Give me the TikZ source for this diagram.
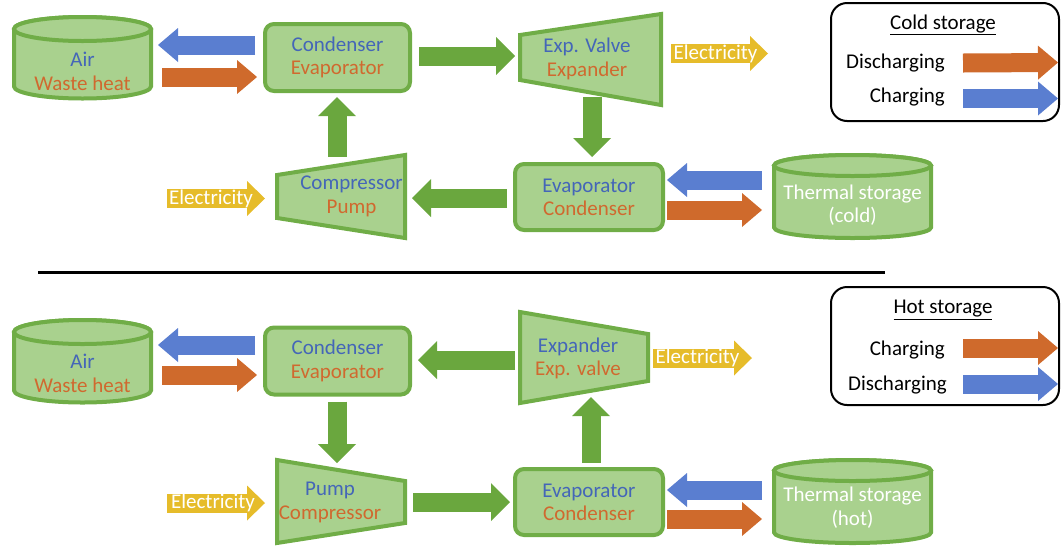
\documentclass[tikz,border=0pt]{standalone}
\usepackage{fontspec}
\setmainfont{Carlito}
\usetikzlibrary{arrows.meta,calc}
\newdimen\px \px=0.75pt
\definecolor{gfill}{HTML}{A9D18E}
\definecolor{gline}{HTML}{70AD47}
\definecolor{garr}{HTML}{6AA73E}
\definecolor{barr}{HTML}{5A7ED0}
\definecolor{oarr}{HTML}{CF6A2C}
\definecolor{yarr}{HTML}{E6BC2A}
\definecolor{btxt}{HTML}{4466B8}
\definecolor{otxt}{HTML}{D0692F}
\tikzset{
 lbl/.style={font=\fontsize{15.75}{17.5}\selectfont, align=center, inner sep=0pt},
 shapebox/.style={draw=gline, fill=gfill, line width=3pt, line join=miter},
 rbox/.style={shapebox, rounded corners=9\px, minimum width=145\px, minimum height=67\px, lbl},
 bbox/.style={inner sep=0pt, outer sep=0pt},
 fat/.style n args={4}{draw=#1, line width=#2, -{Triangle[width=#3, length=#4, line width=0pt]}},
 garrow/.style={fat={garr}{14.25pt}{28.5pt}{14.25pt}},
 barrow/.style={fat={barr}{14.25pt}{25.5pt}{15pt}},
 oarrow/.style={fat={oarr}{14.25pt}{25.5pt}{15pt}},
 yarrow/.style={fat={yarr}{14.25pt}{26.25pt}{13.5pt}},
 legbox/.style={draw=black, line width=1.5pt, rounded corners=16\px, minimum width=228\px, minimum height=118\px},
}
\newcommand\drawcyl[5]{%
 \draw[shapebox] (#1-#4,#2) -- (#1-#4,#3) arc[start angle=180,end angle=360,x radius=#4\px,y radius=#5\px]
   -- (#1+#4,#2) arc[start angle=0,end angle=180,x radius=#4\px,y radius=#5\px] -- cycle;
 \draw[shapebox] (#1,#2) ellipse[x radius=#4\px, y radius=#5\px];}
\begin{document}
\begin{tikzpicture}[x=0.75pt,y=-0.75pt]
\useasboundingbox (0,0) rectangle (1063,547);

% ================= TOP (cold storage) =================
\drawcyl{82.5}{29}{86.5}{68.5}{12}
\node[bbox, minimum width=141\px, minimum height=85\px] (airT) at (82.5,57.5) {};
\node[lbl] (airTtxt) at (82.5,71.5) {\textcolor{btxt}{Air}\\\textcolor{otxt}{Waste heat}};

\node[rbox] (condT) at (337.5,57.5) {\textcolor{btxt}{Condenser}\\\textcolor{otxt}{Evaporator}};

\draw[shapebox] (520,35) -- (661,14) -- (661,105) -- (520,80) -- cycle;
\node[bbox, minimum width=145\px, minimum height=95\px] (expvT) at (590.5,59.5) {};
\node[lbl] (expvTtxt) at (587,59) {\textcolor{btxt}{Exp. Valve}\\\textcolor{otxt}{Expander}};

\node[rbox, minimum width=148\px, minimum height=66\px] (evapT) at (589,197) {\textcolor{btxt}{Evaporator}\\\textcolor{otxt}{Condenser}};

\draw[shapebox] (277,175) -- (405,155) -- (405,238) -- (277,218) -- cycle;
\node[bbox, minimum width=132\px, minimum height=87\px] (compT) at (341,196.5) {};
\node[lbl] (compTtxt) at (351.5,196.5) {\textcolor{btxt}{Compressor}\\\textcolor{otxt}{Pump}};

\drawcyl{852.5}{165.5}{227.5}{78.5}{10.5}
\node[bbox, minimum width=161\px, minimum height=87\px] (thermT) at (852.5,196.5) {};
\node[lbl, text=white] (thermTtxt) at (852.5,205) {Thermal storage\\(cold)};

\draw[barrow] ($(condT.west)+(-8,-12.5)$) -- ($(airT.east)+(5,-12.5)$);
\draw[oarrow] ($(airT.east)+(9,19.5)$) -- ($(condT.west)+(-6,19.5)$);
\draw[garrow] ($(condT.east)+(7,-1.5)$) -- ($(expvT.west)+(-3,-3.5)$);
\draw[garrow] ($(expvT.south)+(1.5,-10)$) -- ($(evapT.north)+(3,-5)$);
\draw[garrow] ($(evapT.west)+(-6,1)$) -- ($(compT.east)+(5,1.5)$);
\draw[garrow] ($(compT.north)+(-4,4)$) -- ($(condT.south)+(-0.5,4)$);
\draw[barrow] ($(thermT.west)+(-10,-16.5)$) -- ($(evapT.east)+(2,-17)$);
\draw[oarrow] ($(evapT.east)+(2,13)$) -- ($(thermT.west)+(-10,13.5)$);

\coordinate (eT1a) at (671,53.5); \coordinate (eT1b) at (768,53.5);
\draw[yarrow] (eT1a) -- (eT1b) node[lbl, midway, xshift=-4\px, text=white] (elecT1) {Electricity};
\coordinate (eT2a) at (167,198.5); \coordinate (eT2b) at (265,198.5);
\draw[yarrow] (eT2a) -- (eT2b) node[lbl, midway, xshift=-5\px, text=white] (elecT2) {Electricity};

\node[legbox] (legT) at (945,62) {};
\node[lbl] (legTtitle) at (943,25) {\underline{Cold storage}};
\node[lbl, anchor=east] (legTdis) at (945,63) {Discharging};
\node[lbl, anchor=east] (legTch) at (945,97) {Charging};
\draw[oarrow] ($(legTdis.east)+(18,0)$) -- ($(legT.east)+(-2,0.5)$);
\draw[barrow] ($(legTch.east)+(18,1.5)$) -- ($(legT.east)+(-2,36.5)$);

% separator
\coordinate (sepL) at (38,272); \coordinate (sepR) at (885,272);
\draw[line width=2.25pt] (sepL) -- (sepR);

% ================= BOTTOM (hot storage) =================
\drawcyl{82.5}{332}{390.5}{68.5}{12}
\node[bbox, minimum width=141\px, minimum height=87\px] (airB) at (82.5,361.5) {};
\node[lbl] (airBtxt) at (82.5,373.5) {\textcolor{btxt}{Air}\\\textcolor{otxt}{Waste heat}};

\node[rbox] (condB) at (337.5,361) {\textcolor{btxt}{Condenser}\\\textcolor{otxt}{Evaporator}};

\draw[shapebox] (277,460) -- (405,481) -- (405,523) -- (277,543) -- cycle;
\node[bbox, minimum width=132\px, minimum height=87\px] (pumpB) at (341,501.5) {};
\node[lbl] (pumpBtxt) at (330,502.5) {\textcolor{btxt}{Pump}\\\textcolor{otxt}{Compressor}};

\node[rbox, minimum width=148\px, minimum height=66\px] (evapB) at (589,502) {\textcolor{btxt}{Evaporator}\\\textcolor{otxt}{Condenser}};

\draw[shapebox] (520,312) -- (648,334) -- (648,381) -- (520,403) -- cycle;
\node[bbox, minimum width=132\px, minimum height=95\px] (expB) at (584,357.5) {};
\node[lbl] (expBtxt) at (578,358.5) {\textcolor{btxt}{Expander}\\\textcolor{otxt}{Exp. valve}};

\drawcyl{852.5}{470.5}{532.5}{78.5}{10.5}
\node[bbox, minimum width=161\px, minimum height=87\px] (thermB) at (852.5,501.5) {};
\node[lbl, text=white] (thermBtxt) at (852.5,507.5) {Thermal storage\\(hot)};

\draw[barrow] ($(condB.west)+(-8,-16)$) -- ($(airB.east)+(5,-16.5)$);
\draw[oarrow] ($(airB.east)+(9,13.5)$) -- ($(condB.west)+(-6,14)$);
\draw[garrow] ($(condB.south)+(-0.5,5)$) -- ($(pumpB.north)+(-4,5)$);
\draw[garrow] ($(pumpB.east)+(6,0.5)$) -- ($(evapB.west)+(-3,0)$);
\draw[garrow] ($(evapB.north)+(2,-4)$) -- ($(expB.south)+(7,-8)$);
\draw[garrow] ($(expB.west)+(-3,2.5)$) -- ($(condB.east)+(6,-1)$);
\draw[barrow] ($(thermB.west)+(-10,-11.5)$) -- ($(evapB.east)+(2,-12)$);
\draw[oarrow] ($(evapB.east)+(2,17)$) -- ($(thermB.west)+(-10,17.5)$);

\coordinate (eB1a) at (167,503); \coordinate (eB1b) at (265,503);
\draw[yarrow] (eB1a) -- (eB1b) node[lbl, midway, xshift=-3\px, text=white] (elecB1) {Electricity};
\coordinate (eB2a) at (653,358); \coordinate (eB2b) at (752,358);
\draw[yarrow] (eB2a) -- (eB2b) node[lbl, midway, xshift=-5\px, text=white] (elecB2) {Electricity};

\node[legbox] (legB) at (945,346) {};
\node[lbl] (legBtitle) at (943,310) {\underline{Hot storage}};
\node[lbl, anchor=east] (legBch) at (945,350) {Charging};
\node[lbl, anchor=east] (legBdis) at (947,385) {Discharging};
\draw[oarrow] ($(legBch.east)+(18,-2)$) -- ($(legB.east)+(-2,2)$);
\draw[barrow] ($(legBdis.east)+(16,-1)$) -- ($(legB.east)+(-2,38)$);
\end{tikzpicture}
\end{document}
